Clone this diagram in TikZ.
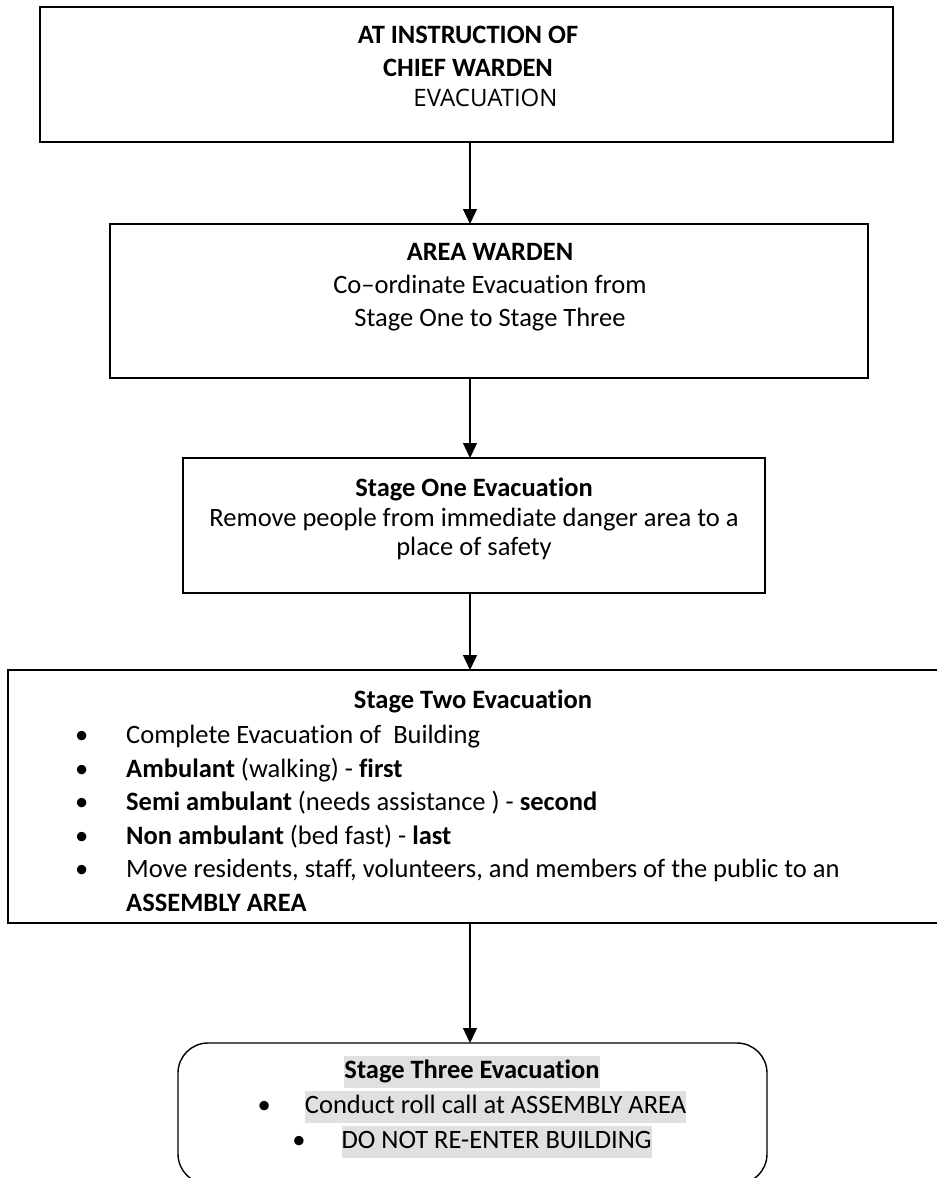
\documentclass[tikz,border=0pt]{standalone}
\usepackage{fontspec}
\setmainfont{Carlito}[Ligatures={NoCommon}]
\newfontfamily\evacfont{Open Sans}
\usetikzlibrary{arrows.meta}
\definecolor{hl}{HTML}{E0E0E0}
\newcommand{\hlt}[1]{{\setlength{\fboxsep}{0pt}\colorbox{hl}{\vrule height 22pt depth 10pt width 0pt #1}}}
\tikzset{
  box/.style={draw, line width=1.4pt},
  conn/.style={draw, line width=1.3pt, -{Triangle[length=15pt,width=14pt]}},
  txt/.style={inner sep=0pt, align=center, font=\fontsize{26.5}{33}\selectfont},
}
\begin{document}
\begin{tikzpicture}[x=1pt,y=-1pt]
\useasboundingbox (0,0) rectangle (937,1178);
% box 1
\draw[box] (40,7) rectangle (893,142);
\coordinate (b1s) at (470,142);
\node[txt, anchor=north] (t1) at (468,26) {\textbf{AT INSTRUCTION OF}\\\textbf{CHIEF WARDEN}\\[-3pt]{\evacfont\fontsize{24}{30}\selectfont\hspace*{35pt}EVACUATION}};
% box 2
\draw[box] (110,224) rectangle (868,378);
\coordinate (b2n) at (470,224);
\coordinate (b2s) at (470,378);
\node[txt, anchor=north] (t2) at (490,243) {\textbf{AREA WARDEN}\\Co–ordinate Evacuation from\\Stage One to Stage Three};
% box 3
\draw[box] (183,458) rectangle (765,593);
\coordinate (b3n) at (470,458);
\coordinate (b3s) at (470,593);
\node[txt, anchor=north, font=\fontsize{26.5}{29.5}\selectfont] (t3) at (474,478) {\textbf{Stage One Evacuation}\\Remove people from immediate danger area to a\\place of safety};
% box 4
\draw[box] (945,670) -- (8,670) -- (8,923) -- (945,923);
\coordinate (b4n) at (470,670);
\coordinate (b4s) at (470,923);
\node[txt, anchor=north] (t4) at (473,690) {\textbf{Stage Two Evacuation}};
\node[txt, anchor=north west, align=left, font=\fontsize{26.5}{33.5}\selectfont] (l4) at (75,720) {%
\begin{tabular}{@{}p{51pt}@{}l@{}}
\textbullet & Complete Evacuation of \ Building\\
\textbullet & \textbf{Ambulant} (walking) - \textbf{first}\\
\textbullet & \textbf{Semi ambulant} (needs assistance ) - \textbf{second}\\
\textbullet & \textbf{Non ambulant} (bed fast) - \textbf{last}\\
\textbullet & Move residents, staff, volunteers, and members of the public to an\\
 & \textbf{ASSEMBLY AREA}
\end{tabular}};
% box 5
\draw[box, rounded corners=30pt] (178,1043) rectangle (767,1184);
\coordinate (b5n) at (470,1043);
\node[txt, anchor=north, font=\fontsize{26.5}{35}\selectfont] (t5) at (472,1056) {%
\hlt{\textbf{Stage Three Evacuation}}\\
\textbullet\hspace{34pt}\hlt{Conduct roll call at ASSEMBLY AREA}\\
\textbullet\hspace{36pt}\hlt{DO NOT RE-ENTER BUILDING}};
% connectors
\draw[conn] (b1s) -- (b2n);
\draw[conn] (b2s) -- (b3n);
\draw[conn] (b3s) -- (b4n);
\draw[conn] (b4s) -- (b5n);
\end{tikzpicture}
\end{document}
